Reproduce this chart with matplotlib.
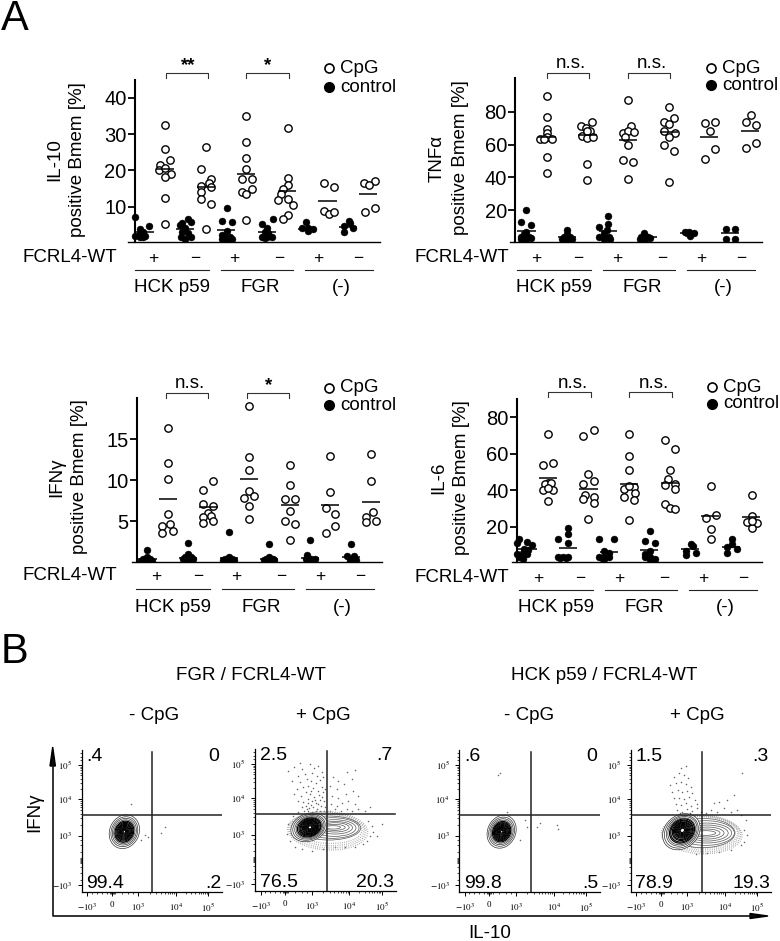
import matplotlib
matplotlib.use('Agg')
from matplotlib import pyplot as plt
from matplotlib.patches import Ellipse
import numpy as np

plt.rcParams['font.family'] = ['Liberation Sans', 'DejaVu Sans']
plt.rcParams['mathtext.fontset'] = 'stix'

W, H = 780, 941
TXT = 13.5

plus_minus = ['+', '\u2212', '+', '\u2212', '+', '\u2212']
group_names = ['HCK p59', 'FGR', '(-)']

# ---- panel A values, one inner list per group, dx = jitter in slot units
il10_cpg_y = [[32.6, 25.8, 22.8, 21.4, 20.1, 20.6, 19, 18.1, 12.5, 5.2],
              [26.4, 20.3, 17.7, 15.8, 16.4, 15.4, 14.1, 12, 10.8, 3.9],
              [34.9, 27.7, 23.3, 20.5, 17.5, 17.5, 14, 15, 13.4, 6.2],
              [31.6, 17.9, 15.9, 15, 13.5, 11.8, 12, 10.5, 7.8, 6.5],
              [16.4, 15.3, 8.7, 8.1, 8.6],
              [16.6, 17.2, 15.9, 8.5, 9.7]]
il10_cpg_dx = [[0, 0, .25, -.25, -.28, 0, .28, 0, 0, 0],
               [0, -.23, .26, -.23, .16, .26, -.23, -.23, .26, 0],
               [0, 0, 0, 0, -.21, .26, -.21, .26, 0, 0],
               [.05, .05, .05, -.2, -.31, -.46, .05, .28, .05, -.2],
               [-.18, .31, -.18, .07, .31],
               [-.21, .33, .05, -.16, .31]]
il10_cpg_mean = [20.3, 15.4, 19.1, 14.3, 11.5, 13.6]
il10_ctl_y = [[7.2, 3.8, 1.9, 2.7, 1.6, 1.9, 4.7, 1.7, 3.1],
              [6.7, 5.8, 5.6, 4.9, 4, 3.1, 2.8, 1.7, 1.2, 1.6],
              [9.7, 6.1, 5.7, 3.4, 2.2, 1.6, 1.7, 1.2, 1, 1.2],
              [6.6, 5.2, 4, 3.1, 2.8, 1.7, 1.7, 1.6, 1.3],
              [5.7, 4, 4, 3.9, 3.4],
              [6, 4.7, 4.1, 3, 5.4]]
il10_ctl_dx = [[-.48, -.23, -.48, -.23, -.23, 0, .23, -.1, -.1],
               [.11, .28, -.15, -.26, 0, -.18, .15, -.21, 0, .26],
               [.03, -.21, .28, .03, -.21, -.1, .2, .28, .03, -.21],
               [.3, -.21, 0, -.08, .08, -.21, .25, 0, -.08],
               [-.07, -.28, .05, .3, .05],
               [.07, -.2, .26, -.2, .1]]
il10_ctl_mean = [3.1, 3.8, 3.6, 2.9, 3.9, 4.3]

tnf_cpg_y = [[89.6, 76.6, 69.3, 67.3, 63.2, 64.8, 63.2, 63.2, 52.6, 42.9],
             [74, 71.3, 70, 68.5, 65.2, 64.2, 64.4, 48.2, 38.6, 68],
             [87.4, 71.5, 67.3, 68.5, 67.7, 59.6, 50.6, 49.6, 39, 64.8],
             [83.1, 76.4, 73.6, 72.6, 68.5, 67.3, 64.8, 59.8, 56.3, 37],
             [73, 73.6, 68.5, 57.3, 51.4],
             [78, 73.6, 71.8, 58.1, 60.8]]
tnf_cpg_dx = [[0, 0, 0, 0, -.33, 0, .28, -.13, 0, 0],
              [.25, -.3, -.05, .11, -.25, 0, .28, 0, 0, 0],
              [0, .13, -.25, 0, .28, 0, -.25, .25, 0, -.16],
              [.03, .28, -.21, .03, -.21, .31, .03, -.21, .28, .03],
              [-.2, .28, .03, .28, -.2],
              [.05, -.2, .3, -.2, .3]]
tnf_cpg_mean = [64.4, 66, 62.8, 67.9, 64.8, 68.5]
tnf_ctl_y = [[19.9, 12.8, 11, 6.9, 3.9, 2.4, 2.8, 5.5, 2.4, 3.9],
             [7.9, 5.5, 3.9, 3.9, 2.4, 2.4, 2.4, 1.8, 1.8],
             [16.7, 11.4, 9.8, 7.9, 5.9, 3.9, 3.9, 2.4, 2.4],
             [5.9, 3.9, 3.9, 2.4, 2.4, 2.8],
             [6.5, 6.9, 5.9, 4.3, 5.9],
             [8.5, 8.5, 2.4, 2.4]]
tnf_ctl_dx = [[0, -.26, .25, 0, -.26, 0, .25, -.13, -.26, .11],
              [0, 0, -.16, .16, -.25, 0, .25, -.08, .08],
              [.03, .03, -.44, -.03, -.2, -.44, .05, -.2, .1],
              [-.2, -.38, 0, -.16, -.41, .08],
              [-.2, 0, .26, .05, -.11],
              [-.2, .26, -.2, .26]]
tnf_ctl_mean = [7.5, 3.9, 7.3, 3.9, 6.2, 5.9]

ifn_cpg_y = [[16.3, 12.1, 10.1, 5.9, 4.5, 4.7, 3.6, 3.8],
             [9.9, 8.8, 7.1, 6.9, 6, 5.7, 5.5, 4.8, 5.1],
             [19, 12.8, 11.3, 8.7, 7.9, 8.1, 6.9, 5.3],
             [11.9, 9.4, 7.7, 7.7, 6.3, 5, 4.7, 2.8],
             [13, 8.6, 6.6, 5.9, 4.5, 3.6],
             [13.2, 9.9, 6.1, 5.6, 4.9, 5.1]]
ifn_cpg_dx = [[0, 0, 0, 0, -.26, .11, -.26, .25],
              [.25, -.25, -.25, .25, 0, .13, -.25, -.25, .25],
              [0, 0, 0, 0, -.26, .25, 0, 0],
              [0, 0, -.25, .25, 0, -.25, .25, 0],
              [0, 0, -.23, .25, .25, -.23],
              [0, 0, .11, -.25, -.25, .25]]
ifn_cpg_mean = [7.7, 6.7, 10.1, 7, 7, 7.4]
ifn_ctl_y = [[1.5, .7, .4, .4, .3, .2, .2],
             [2.4, 1, .7, .7, .4, .4, .4],
             [3.7, .7, .5, .5, .3, .3, .3],
             [2.3, .7, .5, .5, .3, .3, .3],
             [2.8, .9, .5, .4, .4, .3],
             [2.3, .8, .8, .4, .3, .2]]
ifn_ctl_dx = [[0, 0, -.2, .15, 0, -.3, .25],
              [0, 0, -.16, .16, -.25, 0, .25],
              [0, 0, -.16, .16, 0, -.26, .25],
              [0, 0, -.16, .16, -.25, .25, 0],
              [.02, -.15, .07, -.18, .23, 0],
              [0, -.2, .15, .03, .25, -.05]]
ifn_ctl_mean = [.4, .6, .6, .5, .6, .7]

il6_cpg_y = [[70.8, 55.2, 53.7, 44.2, 43.5, 43.9, 40.2, 40.2, 41.1, 34.2],
             [69.7, 72.8, 49, 45.3, 43.5, 37.5, 36.6, 35.3, 32.9, 24.1],
             [70.8, 58.7, 51.2, 40.8, 42, 42.4, 36.2, 38.4, 34.7, 23.8],
             [67.6, 62.5, 51.2, 46, 43.5, 42.8, 40.6, 32.5, 30.2, 30],
             [42.6, 26.7, 24.9, 18.6, 13.2],
             [37.7, 26, 22.9, 22.3, 19.6, 23]]
il6_cpg_dx = [[0, .25, -.25, 0, -.13, .15, -.25, .25, 0, 0],
              [-.25, .26, 0, .26, -.25, -.16, .3, -.25, .26, 0],
              [0, 0, 0, -.25, .25, 0, -.25, .28, .25, 0],
              [-.21, .28, .03, -.1, .28, -.21, .28, -.21, .03, .28],
              [.03, .3, -.2, .03, .03],
              [.07, .07, -.18, .3, .07, .07]]
il6_cpg_mean = [47, 41, 43.7, 44.2, 26, 25.6]
il6_ctl_y = [[13.2, 11, 11.5, 10, 7.7, 7.3, 5.1, 5.8, 2.4, 5, 3.7],
             [19.2, 16, 13.5, 11.2, 3.7, 3.7, 3.7, 2.7, 2.7],
             [13.3, 13.3, 6.9, 5.8, 3.7, 3.7, 3.7, 2.2, 2.7],
             [17.7, 12, 11, 6.9, 3.7, 3.7, 2.4, 1.8, 5.1],
             [10.6, 9.5, 6.9, 5.8, 4.4],
             [13.3, 10.4, 8.8, 7.7, 5.8]]
il6_ctl_dx = [[-.4, -.49, 0, .23, -.16, .05, -.49, -.23, -.23, 0, -.4],
              [0, 0, -.48, 0, -.48, -.23, 0, -.4, -.1],
              [-.48, .26, -.23, 0, -.48, -.23, 0, -.23, -.34],
              [.03, -.21, .28, .03, -.21, .03, .28, .03, -.21],
              [.03, .16, -.2, .3, -.2],
              [.05, .05, -.2, .3, -.2]]
il6_ctl_mean = [7.9, 8.4, 6.4, 7.3, 7.6, 9]

# ---- panel B values, channel units
flow_xtick_pos = [17, 90, 170, 283, 380]
flow_ytick_pos = [20, 168, 277, 380]
flow_xtick_lab = [r'$-10^{3}$', '0', r'$10^{3}$', r'$10^{4}$', r'$10^{5}$']
flow_ytick_lab = [r'$-10^{3}$', r'$10^{3}$', r'$10^{4}$', r'$10^{5}$']

p1_dots_x = [148, 250, 238, 190, 200, 178]
p1_dots_y = [263, 193, 175, 170, 163, 155]
p3_dots_x = [122, 117, 142, 197, 202, 242, 232, 292, 297, 182]
p3_dots_y = [357, 350, 240, 215, 195, 205, 195, 200, 187, 155]
p2_dots_x = [100, 118, 134, 142, 165, 178, 190, 128, 150, 172, 185, 200, 110, 135, 155, 168, 182, 195, 205, 125,
             145, 160, 175, 188, 200, 210, 118, 138, 152, 165, 178, 192, 205, 130, 145, 158, 170, 182, 195, 208,
             140, 152, 163, 175, 186, 198, 210, 148, 160, 172, 184, 196, 208, 155, 168, 180, 190, 202, 168, 158,
             235, 250, 275, 300, 225, 245, 268, 290, 230, 250, 272, 295, 310, 228, 245, 262, 280, 300, 225, 240,
             258, 275, 292, 310, 330, 345, 340, 350, 355, 345, 335, 365, 380, 325, 300, 270, 240, 205, 170, 140,
             120, 105, 95, 100, 115, 130]
p2_dots_y = [360, 372, 382, 365, 380, 368, 375, 345, 350, 352, 345, 355, 330, 325, 335, 328, 322, 332, 340, 305,
             310, 315, 308, 300, 312, 305, 290, 285, 295, 290, 282, 288, 295, 270, 265, 275, 268, 262, 272, 268,
             250, 255, 248, 252, 246, 255, 250, 238, 240, 236, 240, 238, 240, 245, 258, 272, 260, 280, 300, 262,
             340, 330, 355, 362, 315, 305, 320, 335, 285, 278, 290, 300, 285, 260, 255, 262, 268, 260, 240, 245,
             240, 245, 240, 245, 240, 250, 210, 195, 175, 165, 150, 165, 200, 140, 130, 130, 130, 125, 120, 125,
             130, 150, 170, 200, 225, 235]
p4_dots_x = [150, 165, 130, 145, 160, 172, 118, 135, 150, 165, 180, 125, 142, 155, 170, 185, 130, 145, 160, 175,
             192, 135, 150, 165, 180, 198, 140, 155, 170, 185, 200, 210, 148, 162, 178, 250, 265, 290, 310, 240,
             260, 280, 300, 320, 225, 330, 345, 335, 340, 350, 340, 330, 300, 265, 230, 195]
p4_dots_y = [372, 378, 345, 355, 350, 340, 320, 325, 330, 322, 315, 300, 305, 298, 302, 295, 280, 282, 278, 285,
             275, 262, 260, 265, 258, 262, 245, 240, 248, 242, 250, 240, 235, 232, 236, 265, 270, 275, 290, 245,
             240, 250, 240, 245, 235, 230, 215, 355, 185, 170, 150, 140, 125, 120, 115, 112]

# main population rings: centre, long axis, short axis, tilt
p1_ring_cx = [128, 128, 128, 128, 128, 128, 128, 128, 128, 128, 128, 128, 128, 128]
p1_ring_cy = [180, 180, 180, 180, 180, 180, 180, 180, 180, 180, 180, 180, 180, 180]
p1_ring_w = [104, 92, 82, 73, 65, 58, 51, 45, 39, 33, 27, 21, 15, 9]
p1_ring_h = [88, 78, 70, 62, 55, 49, 43, 38, 33, 28, 23, 18, 13, 7]
p3_ring_cx = [127, 127, 127, 127, 127, 127, 127, 127, 127, 127, 127, 127, 127, 127]
p3_ring_cy = [180, 180, 180, 180, 180, 180, 180, 180, 180, 180, 180, 180, 180, 180]
p3_ring_w = [102, 90, 80, 71, 63, 56, 50, 44, 38, 32, 27, 21, 15, 9]
p3_ring_h = [84, 75, 67, 60, 53, 47, 42, 37, 32, 27, 23, 18, 13, 7]
p2_ring_cx = [162, 162, 163, 163, 163, 164, 164, 164, 165, 165, 165, 165, 165, 165, 165]
p2_ring_cy = [190, 190, 190, 190, 190, 190, 190, 190, 190, 190, 190, 190, 190, 190, 190]
p2_ring_w = [112, 100, 90, 81, 73, 66, 59, 53, 47, 41, 35, 29, 23, 17, 11]
p2_ring_h = [82, 74, 67, 61, 55, 50, 45, 41, 37, 33, 28, 24, 19, 14, 9]
p4_ring_cx = [152, 152, 153, 153, 154, 154, 155, 155, 155, 155, 155, 155, 155, 155, 155]
p4_ring_cy = [180, 180, 181, 181, 182, 182, 183, 183, 184, 184, 184, 184, 184, 184, 184]
p4_ring_w = [122, 110, 99, 89, 80, 72, 64, 57, 50, 44, 38, 32, 26, 20, 14]
p4_ring_h = [98, 89, 81, 74, 67, 61, 55, 49, 44, 39, 34, 29, 24, 18, 12]

# IL-10 positive lobe rings
p2_lobe_cx = [222, 232, 238, 240, 240, 238, 234]
p2_lobe_cy = [188, 188, 188, 189, 190, 190, 190]
p2_lobe_w = [190, 160, 130, 105, 85, 65, 45]
p2_lobe_h = [72, 62, 50, 38, 28, 18, 10]
p4_lobe_cx = [215, 225, 228, 230, 230, 228, 225]
p4_lobe_cy = [176, 176, 176, 176, 176, 176, 176]
p4_lobe_w = [196, 172, 150, 125, 100, 80, 60]
p4_lobe_h = [88, 74, 60, 48, 36, 24, 14]

flow_quad_labels = [['.4', '0', '99.4', '.2'],
                    ['2.5', '.7', '76.5', '20.3'],
                    ['.6', '0', '99.8', '.5'],
                    ['1.5', '.3', '78.9', '19.3']]


fig = plt.figure(figsize=(W / 100, H / 100), dpi=100)

# overlay in pixel coordinates for text and brackets
over = fig.add_axes([0, 0, 1, 1], zorder=5)
over.set_xlim(0, W)
over.set_ylim(H, 0)
over.axis('off')


def px_axes(left, top, right, bottom):
    return fig.add_axes([left / W, 1 - bottom / H, (right - left) / W, (bottom - top) / H])


def scatter_panel(box, spine_x, slot1_px, ylim, yticks, cpg_y, cpg_dx, cpg_mean, ctl_y, ctl_dx, ctl_mean):
    left, top, right, bottom = box
    ax = px_axes(left, top, right, bottom)
    to_slot = lambda p: (p - slot1_px) / 20.33 + 1
    ax.set_xlim(to_slot(left), to_slot(right))
    ax.set_ylim(*ylim)
    for i in range(6):
        x = 2 * i + 1
        ax.plot(x + np.array(cpg_dx[i]), cpg_y[i], 'o', ms=5.3, mfc='white', mec='black', mew=1.0, zorder=3)
        ax.hlines(cpg_mean[i], x - .45, x + .45, color='black', lw=1.1, zorder=4)
        x = 2 * i
        ax.plot(x + np.array(ctl_dx[i]), ctl_y[i], 'o', ms=5.0, mfc='black', mec='black', mew=0.3, zorder=3)
        ax.hlines(ctl_mean[i], x - .45, x + .45, color='black', lw=1.1, zorder=4)
    for s in ['top', 'right']:
        ax.spines[s].set_visible(False)
    ax.spines['left'].set_position(('data', to_slot(spine_x)))
    ax.spines['left'].set_linewidth(1.5)
    ax.spines['bottom'].set_linewidth(1.0)
    ax.set_xticks([])
    ax.set_yticks(yticks)
    ax.tick_params(axis='y', length=5, width=1.3, labelsize=14.5, pad=1)
    ax.patch.set_alpha(0)
    return ax


def decorate(dx, dy, legend_x, leg_y1, leg_y2, fcrl_x, plus_x, brk1, brk2, brk_y, stars, star_x, star_y):
    # plus/minus row, group rules and names
    for x, s in zip(plus_x, plus_minus):
        over.text(x, 258 + dy, s, ha='center', va='center', fontsize=12.5)
    for (a, b), name, c in zip([(135, 209), (221, 293), (305, 373)], group_names, [171.7, 260, 341]):
        over.plot([a + dx, b + dx], [270 + dy, 270 + dy], color='#222222', lw=0.8)
        over.text(c + dx, 288 + dy, name, ha='center', va='center', fontsize=TXT)
    over.text(fcrl_x, 257 + dy, 'FCRL4-WT', ha='left', va='center', fontsize=TXT)
    # brackets
    for (a, b), s, cx in zip([brk1, brk2], stars, star_x):
        over.plot([a, a, b, b], [brk_y + 5, brk_y, brk_y, brk_y + 5], color='#333333', lw=0.8)
        if '*' in s:
            over.text(cx, star_y + 3, s, ha='center', va='center', fontsize=TXT, fontweight='bold')
        else:
            over.text(cx, star_y, s, ha='center', va='center', fontsize=TXT)
    # legend
    over.plot(legend_x, leg_y1, 'o', ms=6.5, mfc='white', mec='black', mew=1.2)
    over.plot(legend_x, leg_y2, 'o', ms=7, mfc='black', mec='black')
    over.text(legend_x + 11, leg_y1, 'CpG', ha='left', va='center', fontsize=TXT)
    over.text(legend_x + 11, leg_y2, 'control', ha='left', va='center', fontsize=TXT)


def two_line_label(x, y, s):
    over.text(x, y, s, rotation=90, ha='center', va='center', fontsize=TXT,
              multialignment='center', linespacing=1.45)


scatter_panel((128.3, 80, 380, 242.3), 135, 165, (0.18, 44.9), [10, 20, 30, 40],
              il10_cpg_y, il10_cpg_dx, il10_cpg_mean, il10_ctl_y, il10_ctl_dx, il10_ctl_mean)
decorate(0, 0, 329, 68, 87, 22, [153, 195, 234, 279, 318, 358], (165.7, 207.7), (246, 289), 73,
         ['**', '*'], [188, 268], 63)
two_line_label(66, 160, 'IL-10\npositive Bmem [%]')

scatter_panel((510, 78.3, 761.7, 242.3), 515.3, 546.7, (0.4, 100.4), [20, 40, 60, 80],
              tnf_cpg_y, tnf_cpg_dx, tnf_cpg_mean, tnf_ctl_y, tnf_ctl_dx, tnf_ctl_mean)
decorate(382, 0, 711, 68, 85, 414, [536, 578, 617, 662, 701, 741], (547, 589.3), (627.7, 670), 73,
         ['n.s.', 'n.s.'], [571, 652], 63)
two_line_label(449, 158, 'TNF\u03b1\npositive Bmem [%]')

scatter_panel((131.7, 398.3, 382, 562), 137, 167.7, (0.08, 19.96), [5, 10, 15],
              ifn_cpg_y, ifn_cpg_dx, ifn_cpg_mean, ifn_ctl_y, ifn_ctl_dx, ifn_ctl_mean)
decorate(1, 319, 329, 388, 405, 22.7, [156, 198, 236, 281, 320, 360], (165.7, 208), (246.7, 289), 393,
         ['n.s.', '*'], [190, 269], 383)
two_line_label(68, 477, 'IFN\u03b3\npositive Bmem [%]')

scatter_panel((511.7, 399.3, 761.7, 562.3), 517, 547.7, (0.55, 89.9), [20, 40, 60, 80],
              il6_cpg_y, il6_cpg_dx, il6_cpg_mean, il6_ctl_y, il6_ctl_dx, il6_ctl_mean)
decorate(384, 320, 712, 387, 404, 415, [538, 580, 619, 664, 703, 743], (548, 591), (629, 672), 392,
         ['n.s.', 'n.s.'], [573, 654], 383)
two_line_label(450, 478, 'IL-6\npositive Bmem [%]')

over.text(1, 19, 'A', ha='left', va='center', fontsize=30)
over.text(1, 652, 'B', ha='left', va='center', fontsize=30)


def rings(ax, cx, cy, w, h, angle, color, lw):
    for a, b, c, d in zip(cx, cy, w, h):
        ax.add_patch(Ellipse((a, b), c, d, angle=angle, fill=False, ec=color, lw=lw, zorder=2))


def flow_panel(left_px, bottom_px, vline, hline, labels, dots_x, dots_y, ring, angle, halos=(), lobe=None):
    # 1 channel = 1/3 px
    left, bottom = left_px, bottom_px
    ax = px_axes(left, bottom - 142, left + 140.5, bottom)
    ax.set_xlim(0, 421.5)
    ax.set_ylim(0, 426)
    for s in ['top', 'right']:
        ax.spines[s].set_visible(False)
    ax.spines['left'].set_linewidth(0.9)
    ax.spines['bottom'].set_linewidth(0.9)
    ax.patch.set_alpha(0)

    # biexponential style minor ticks
    xminor, yminor = [], []
    for a, b, m in [(170, 283, 113), (283, 380, 97)]:
        for k in range(2, 10):
            xminor.append(a + m * np.log10(k))
    for a, m in [(168, 109), (277, 103)]:
        for k in range(2, 10):
            yminor.append(a + m * np.log10(k))
    xminor += [30, 45, 60, 75, 84, 87, 93, 96, 100, 120, 140, 155]
    yminor += [35, 55, 75, 86, 89, 92, 95, 98, 101, 120, 140, 155, 395, 405, 415]
    ax.set_xticks(flow_xtick_pos)
    ax.set_xticklabels(flow_xtick_lab)
    ax.set_yticks(flow_ytick_pos)
    ax.set_yticklabels(flow_ytick_lab)
    ax.set_xticks(xminor, minor=True)
    ax.set_yticks(yminor, minor=True)
    ax.tick_params(which='major', length=3, width=0.7, labelsize=6.5, pad=4)
    ax.tick_params(which='minor', length=1.5, width=0.5)
    for lab in ax.get_xticklabels() + ax.get_yticklabels():
        lab.set_fontfamily('Liberation Serif')

    ax.plot(dots_x, dots_y, 'o', ms=1.1, color='#666666', mew=0, zorder=1)
    for hx, hy, hw, hh, ha_ in halos:
        ax.add_patch(Ellipse((hx, hy), hw, hh, angle=ha_, fill=False, ec='#999999', lw=1.0,
                             ls=(0, (0.5, 1.1)), zorder=1))
    if lobe is not None:
        rings(ax, lobe[0], lobe[1], lobe[2], lobe[3], 0, '#555555', 0.5)
        # blob sits on top of the lobe's left end
        ax.add_patch(Ellipse((ring[0][0], ring[1][0]), ring[2][0], ring[3][0], angle=angle,
                             fc='white', ec='none', zorder=2))
    rings(ax, ring[0][:4], ring[1][:4], ring[2][:4], ring[3][:4], angle, '#333333', 0.5)
    rings(ax, ring[0][4:], ring[1][4:], ring[2][4:], ring[3][4:], angle, '#000000', 0.85)

    ax.plot([vline, vline], [0, 418], color='#222222', lw=1.1, zorder=4)
    ax.plot([0, 421], [hline, hline], color='#222222', lw=1.1, zorder=4)
    ax.text(14, 405, labels[0], ha='left', va='center', fontsize=TXT + .5, zorder=6)
    ax.text(412, 405, labels[1], ha='right', va='center', fontsize=TXT + .5, zorder=6)
    ax.text(14, 25, labels[2], ha='left', va='center', fontsize=TXT + .5, zorder=6)
    ax.text(418, 25, labels[3], ha='right', va='center', fontsize=TXT + .5, zorder=6)


flow_panel(81.7, 891.7, 212, 230, flow_quad_labels[0], p1_dots_x, p1_dots_y,
           (p1_ring_cx, p1_ring_cy, p1_ring_w, p1_ring_h), 65)
flow_panel(255, 890.7, 215, 231, flow_quad_labels[1], p2_dots_x, p2_dots_y,
           (p2_ring_cx, p2_ring_cy, p2_ring_w, p2_ring_h), 20,
           halos=[(217, 186, 208, 88, -3), (217, 184, 220, 98, -3), (217, 182, 230, 107, -3),
                  (218, 180, 240, 115, -3)],
           lobe=(p2_lobe_cx, p2_lobe_cy, p2_lobe_w, p2_lobe_h))
flow_panel(459.3, 891.7, 214, 230, flow_quad_labels[2], p3_dots_x, p3_dots_y,
           (p3_ring_cx, p3_ring_cy, p3_ring_w, p3_ring_h), 65)
flow_panel(630.7, 891.7, 213, 230, flow_quad_labels[3], p4_dots_x, p4_dots_y,
           (p4_ring_cx, p4_ring_cy, p4_ring_w, p4_ring_h), 40,
           halos=[(212, 178, 218, 94, -2), (212, 176, 226, 102, -2), (213, 174, 234, 109, -2),
                  (213, 172, 242, 116, -2)],
           lobe=(p4_lobe_cx, p4_lobe_cy, p4_lobe_w, p4_lobe_h))

# titles of panel B
over.text(251, 675, 'FGR / FCRL4-WT', ha='center', va='center', fontsize=TXT)
over.text(604, 675, 'HCK p59 / FCRL4-WT', ha='center', va='center', fontsize=TXT)
for x, s in zip([154, 323, 529, 697], ['- CpG', '+ CpG', '- CpG', '+ CpG']):
    over.text(x, 715, s, ha='center', va='center', fontsize=TXT)

# big axes arrows
over.plot([52.7, 52.7, 755], [760, 916, 916], color='#111111', lw=1.2)
over.fill([52.7, 50, 55.4], [747, 766, 766], color='black')
over.fill([768, 750, 750], [916, 913.5, 918.5], color='black')
over.text(35, 812, 'IFN\u03b3', rotation=90, ha='center', va='center', fontsize=TXT)
over.text(490, 934, 'IL-10', ha='center', va='center', fontsize=TXT)

fig.savefig('out.png', dpi=100)
